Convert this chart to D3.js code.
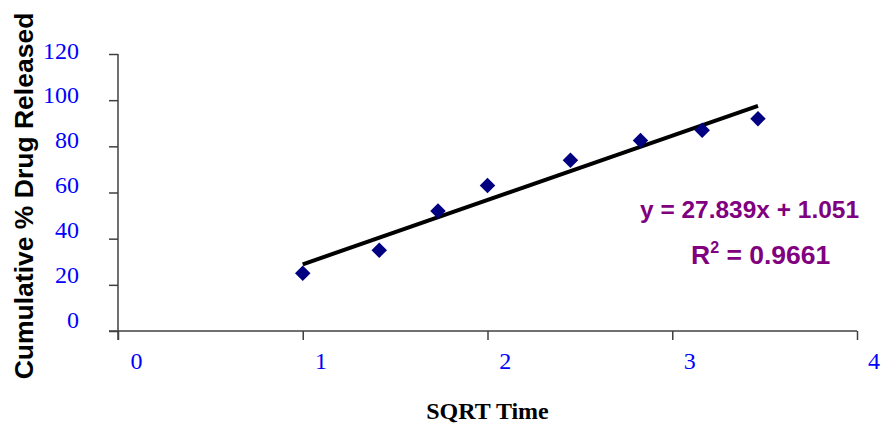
<!DOCTYPE html>
<html>
<head>
<meta charset="utf-8">
<script src="https://cdn.jsdelivr.net/npm/d3@7"></script>
<style>
  body { margin: 0; background: #fff; }
</style>
</head>
<body>
<div id="viz-container"></div>
<script>
// sqrt of time (hours) and cumulative % released
let sqrtTime = [1, 1.414, 1.732, 2, 2.449, 2.828, 3.162, 3.464];
let released = [25, 35, 52, 63, 74, 82.5, 87, 92];

let xTicks = [0, 1, 2, 3, 4];
let yTicks = [0, 20, 40, 60, 80, 100, 120];

// trendline from the fitted equation
let slope = 27.839;
let intercept = 1.051;
let eqLabel = "y = 27.839x + 1.051";
let r2Label = "0.9661";

let viz = d3.select("#viz-container")
  .append("svg")
    .attr("width", 887)
    .attr("height", 431)
;

let x = d3.scaleLinear().domain([0, 4]).range([118, 857]);
let y = d3.scaleLinear().domain([0, 120]).range([331, 54]);

// excel places the tick labels a bit off their ticks
let xLab = d3.scaleLinear().domain([0, 4]).range([136.5, 874]);
let yLab = d3.scaleLinear().domain([0, 120]).range([320, 50.5]);

let axisColor = "#404040";

// y axis
let yAxis = viz.append("g")
    .attr("transform", "translate(118,0)")
    .call(d3.axisLeft(y).tickValues(yTicks).tickSize(9).tickFormat(""));
yAxis.select(".domain").remove();
yAxis.append("line")
    .attr("x1", 0).attr("x2", 0)
    .attr("y1", y(120)).attr("y2", y(0) + 9);
yAxis.selectAll("line").attr("stroke", axisColor).attr("stroke-width", 1.5);

// x axis
let xAxis = viz.append("g")
    .attr("transform", "translate(0,331)")
    .call(d3.axisBottom(x).tickValues(xTicks).tickSize(9).tickFormat(""));
xAxis.select(".domain").remove();
xAxis.append("line")
    .attr("x1", x(0) - 9).attr("x2", x(4))
    .attr("y1", 0).attr("y2", 0);
xAxis.selectAll("line").attr("stroke", axisColor).attr("stroke-width", 1.5);

// tick labels
viz.append("g").selectAll("text").data(yTicks).enter()
  .append("text")
    .attr("x", 79)
    .attr("y", d => yLab(d))
    .attr("text-anchor", "end")
    .attr("dominant-baseline", "central")
    .attr("font-family", "Liberation Serif, Times New Roman, serif")
    .attr("font-size", 24)
    .attr("fill", "#0000ff")
    .text(d => d)
;

viz.append("g").selectAll("text").data(xTicks).enter()
  .append("text")
    .attr("x", d => xLab(d))
    .attr("y", 361)
    .attr("text-anchor", "middle")
    .attr("dominant-baseline", "central")
    .attr("font-family", "Liberation Serif, Times New Roman, serif")
    .attr("font-size", 24)
    .attr("fill", "#0000ff")
    .text(d => d)
;

// axis titles
viz.append("text")
    .attr("transform", "translate(33,196) rotate(-90)")
    .attr("text-anchor", "middle")
    .attr("font-family", "Liberation Sans, Arial, sans-serif")
    .attr("font-weight", "bold")
    .attr("font-size", 26.5)
    .attr("fill", "#000")
    .text("Cumulative % Drug Released")
;

viz.append("text")
    .attr("x", 487.5)
    .attr("y", 419)
    .attr("text-anchor", "middle")
    .attr("font-family", "Liberation Serif, Times New Roman, serif")
    .attr("font-weight", "bold")
    .attr("font-size", 24)
    .attr("fill", "#000")
    .text("SQRT Time")
;

// trendline
let xMin = d3.min(sqrtTime), xMax = d3.max(sqrtTime);
viz.append("line")
    .attr("x1", x(xMin)).attr("y1", y(slope * xMin + intercept))
    .attr("x2", x(xMax)).attr("y2", y(slope * xMax + intercept))
    .attr("stroke", "#000")
    .attr("stroke-width", 4)
;

// markers
let diamond = d3.symbol(d3.symbolSquare, 120);
viz.append("g").selectAll("path").data(sqrtTime).enter()
  .append("path")
    .attr("d", diamond)
    .attr("transform", (d, i) => "translate(" + x(d) + "," + y(released[i]) + ") rotate(45)")
    .attr("fill", "#000080")
;

// equation
viz.append("text")
    .attr("x", 640)
    .attr("y", 218)
    .attr("textLength", 219)
    .attr("lengthAdjust", "spacingAndGlyphs")
    .attr("font-family", "Liberation Sans, Arial, sans-serif")
    .attr("font-weight", "bold")
    .attr("font-size", 24.5)
    .attr("fill", "#800080")
    .text(eqLabel)
;

let r2 = viz.append("text")
    .attr("x", 691)
    .attr("y", 264)
    .attr("font-family", "Liberation Sans, Arial, sans-serif")
    .attr("font-weight", "bold")
    .attr("font-size", 26.5)
    .attr("fill", "#800080");
r2.append("tspan").text("R");
r2.append("tspan").attr("font-size", 16).attr("dy", -11).text("2");
r2.append("tspan").attr("dy", 11).text(" = " + r2Label);
</script>
</body>
</html>
